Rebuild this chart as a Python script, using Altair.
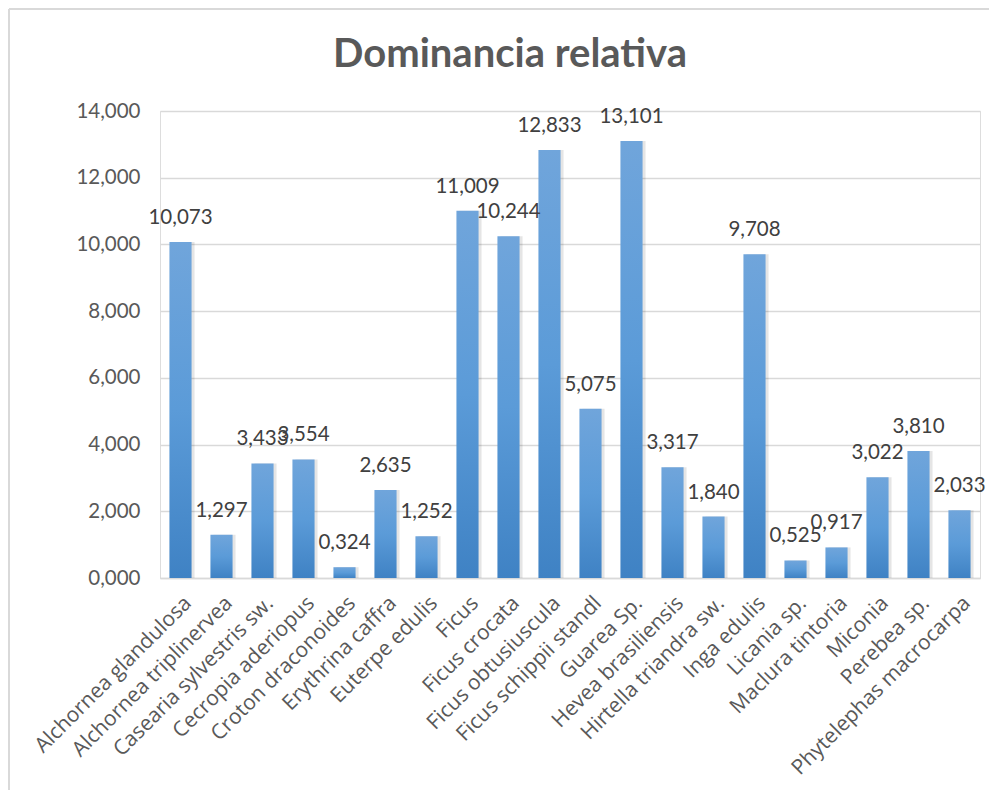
import altair as alt
import pandas as pd

species = [
    "Alchornea glandulosa", "Alchornea triplinervea", "Casearia sylvestris sw.",
    "Cecropia aderiopus", "Croton draconoides", "Erythrina caffra", "Euterpe edulis",
    "Ficus", "Ficus crocata", "Ficus obtusiuscula", "Ficus schippii standl",
    "Guarea Sp.", "Hevea brasiliensis", "Hirtella triandra sw.", "Inga edulis",
    "Licania sp.", "Maclura tintoria", "Miconia", "Perebea sp.", "Phytelephas macrocarpa",
]
values = [10.073, 1.297, 3.433, 3.554, 0.324, 2.635, 1.252, 11.009, 10.244, 12.833,
          5.075, 13.101, 3.317, 1.840, 9.708, 0.525, 0.917, 3.022, 3.810, 2.033]
y_ticks = [0, 2, 4, 6, 8, 10, 12, 14]
title_text = "Dominancia relativa"

df = pd.DataFrame({"especie": species, "valor": values})

FONT = "Lato"
XFONT = "Open Sans"
W, H = 820, 467

x = alt.X("especie:N", sort=species, title=None,
          scale=alt.Scale(paddingInner=0.46, paddingOuter=0.23),
          axis=alt.Axis(labelAngle=-45, labelFontSize=21, labelColor="#595959",
                        labelFont=XFONT, ticks=False, domainColor="#d9d9d9",
                        domainWidth=1.5, labelPadding=14, labelLimit=400))
y = alt.Y("valor:Q", title=None,
          scale=alt.Scale(domain=[0, 14], nice=False),
          axis=alt.Axis(values=y_ticks, format=".3f", labelFontSize=20.5,
                        labelColor="#595959", labelFont=FONT, ticks=False,
                        domain=False, gridColor="#d9d9d9", gridWidth=1.5,
                        labelPadding=20))

base = alt.Chart(df)

shadow = base.mark_bar(xOffset=3, color="#000000", opacity=0.10).encode(x=x, y=y)

bars = base.mark_bar(
    color=alt.Gradient(
        gradient="linear",
        stops=[alt.GradientStop(color="#70a5db", offset=0),
               alt.GradientStop(color="#5b9bd8", offset=0.5),
               alt.GradientStop(color="#3f82c4", offset=1)],
        x1=0, x2=0, y1=0, y2=1,
    )
).encode(x=x, y=y)

labels = base.mark_text(baseline="alphabetic", dy=-18, fontSize=20.5, font=FONT,
                        color="#404040").encode(
    x=x, y=y, text=alt.Text("valor:Q", format=".3f"))

one = pd.DataFrame({"t": [title_text]})
title = alt.Chart(one).mark_text(
    fontSize=40, font=FONT, fontWeight="bold", color="#595959",
    align="center", baseline="alphabetic").encode(
    text="t:N", x=alt.value(350), y=alt.value(-44))

border_left = alt.Chart(one).mark_rule(
    color="#d9d9d9", strokeWidth=2).encode(
    x=alt.value(-151), y=alt.value(-102), y2=alt.value(H + 230))
border_top = alt.Chart(one).mark_rule(
    color="#d9d9d9", strokeWidth=2).encode(
    x=alt.value(-151), x2=alt.value(W + 20), y=alt.value(-102))

chart = alt.layer(border_left, border_top, title, shadow, bars, labels).properties(
    width=W, height=H,
    autosize=alt.AutoSizeParams(type="none"),
    padding={"left": 152, "top": 103, "right": 9, "bottom": 212},
).configure_view(stroke=None).configure(
    locale={"number": {"decimal": ",", "thousands": ".", "grouping": [3],
                       "currency": ["", ""]}}
)

chart.save("out.html", embed_options={"renderer": "svg", "actions": False})
